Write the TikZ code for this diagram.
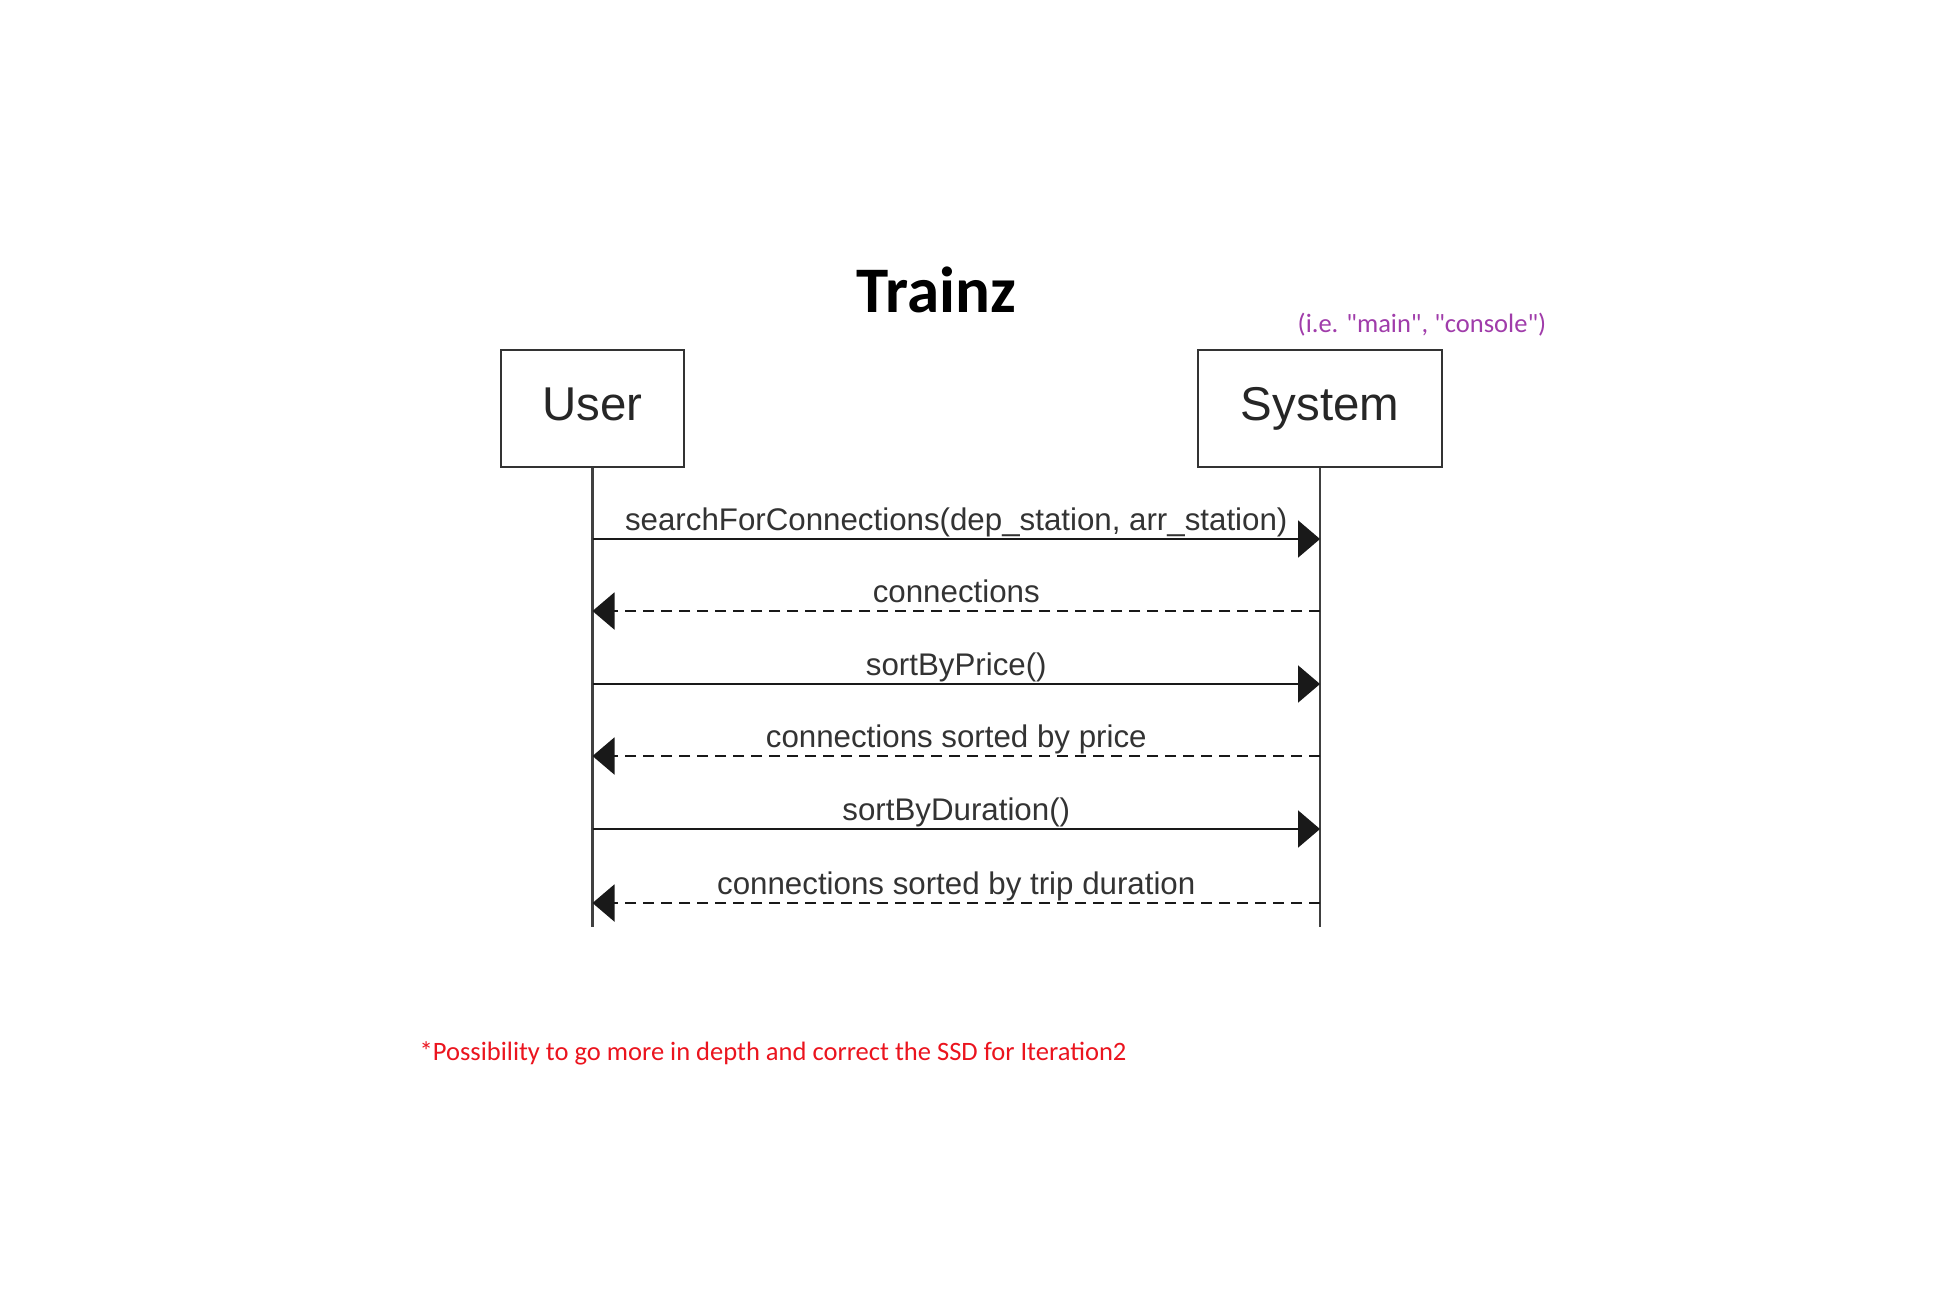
\documentclass[tikz,border=0pt]{standalone}
\usepackage{fontspec}
\setmainfont{Carlito}
\newfontfamily\arialfont{Liberation Sans}
\newfontfamily\notefont[Ligatures=TeXOff]{Carlito}
\usepackage{xcolor}
\usepackage{tikz}
\usetikzlibrary{arrows.meta, positioning}

\definecolor{notepurple}{RGB}{160,60,170}
\definecolor{notered}{RGB}{235,20,30}

\begin{document}
\begin{tikzpicture}[
    actor/.style={rectangle, draw=black!80, line width=0.7pt, minimum height=1.17cm, inner sep=0pt, text height=0.9em, text depth=0.21em, font=\arialfont\fontsize{13.5}{16}\selectfont, text=black!85},
    lifeline/.style={draw=black!75, line width=0.6pt},
    call/.style={-{Triangle[length=2.2mm, width=3.7mm]}, line width=0.6pt, black!90},
    reply/.style={call, dash pattern=on 1.1mm off 0.7mm},
    msg/.style={font=\arialfont\fontsize{8.9}{11}\selectfont, text=black!80, anchor=base, inner sep=0pt},
    note/.style={font=\notefont\fontsize{7.55}{9}\selectfont, anchor=base west, inner sep=0pt},
]

% ===== Page =====
\fill[white] (0,0) rectangle (19.44,-12.96);

% ===== Title =====
\node[font=\bfseries\fontsize{18.5}{22}\selectfont, anchor=base] (title) at (9.365,-3.12) {Trainz};

% ===== Actors =====
\node[actor, minimum width=1.83cm] (user) at (5.925,-4.085) {User};
\node[actor, minimum width=2.44cm] (sys) at (13.2,-4.085) {System};
\node[note, text=notepurple] (sysnote) at (12.97,-3.32) {(i.e. "main", "console")};

% ===== Lifelines =====
\coordinate (uend) at (5.925,-9.27);
\coordinate (send) at (13.2,-9.27);
\draw[lifeline] (user.south) -- (uend);
\draw[lifeline] (sys.south) -- (send);

\foreach \y [count=\i] in {5.39,6.11,6.84,7.56,8.29,9.03} {
    \coordinate (u\i) at (5.925,-\y);
    \coordinate (s\i) at (13.2,-\y);
}

% ===== Messages =====
\draw[call] (u1) -- (s1) node[msg, midway, yshift=0.9mm] {searchForConnections(dep\_station, arr\_station)};
\draw[reply] (s2) -- (u2) node[msg, midway, yshift=0.9mm] {connections};
\draw[call] (u3) -- (s3) node[msg, midway, yshift=0.9mm] {sortByPrice()};
\draw[reply] (s4) -- (u4) node[msg, midway, yshift=0.9mm] {connections sorted by price};
\draw[call] (u5) -- (s5) node[msg, midway, yshift=0.9mm] {sortByDuration()};
\draw[reply] (s6) -- (u6) node[msg, midway, yshift=0.9mm] {connections sorted by trip duration};

% ===== Footnote =====
\node[note, text=notered] (footnote) at (4.19,-10.6) {*Possibility to go more in depth and correct the SSD for Iteration2};

\end{tikzpicture}
\end{document}
